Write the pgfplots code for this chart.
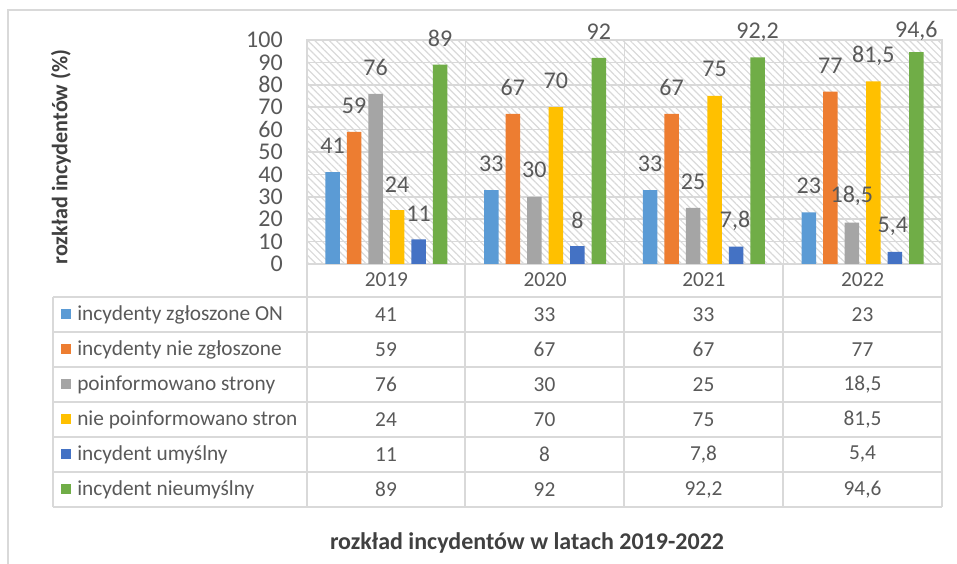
\documentclass[border=0pt]{standalone}
\usepackage{pgfplots}
\pgfplotsset{compat=1.18}
\usepackage{pgfplotstable}
\usepackage{fontspec}
\setmainfont{Carlito}
\usetikzlibrary{patterns.meta}
\definecolor{c1}{HTML}{5B9BD5}
\definecolor{c2}{HTML}{ED7D31}
\definecolor{c3}{HTML}{A5A5A5}
\definecolor{c4}{HTML}{FFC000}
\definecolor{c5}{HTML}{4472C4}
\definecolor{c6}{HTML}{70AD47}
\definecolor{gridc}{HTML}{D9D9D9}
\definecolor{txt}{HTML}{595959}
\definecolor{ttl}{HTML}{404040}

\pgfplotstableread{
x y dy dx
0 41 26 0
1 33 26 0
2 33 26 0
3 23 27 0
}\tA
\pgfplotstableread{
x y dy dx
0 59 26 0
1 67 26 0
2 67 26 0
3 77 26 0
}\tB
\pgfplotstableread{
x y dy dx
0 76 26 0
1 30 27 0
2 25 26 0
3 18.5 27 0
}\tC
\pgfplotstableread{
x y dy dx
0 24 26 0
1 70 26 0
2 75 27 0
3 81.5 26 0
}\tD
\pgfplotstableread{
x y dy dx
0 11 26 0
1 8 26 0
2 7.8 26 -1
3 5.4 26 -2
}\tE
\pgfplotstableread{
x y dy dx
0 89 26 0
1 92 26 0
2 92.2 25 0
3 94.6 21 0
}\tF

\newcommand{\fbig}{\fontsize{18}{18}\selectfont}
\newcommand{\fsmall}{\fontsize{16}{16}\selectfont}

\begin{document}
\begin{tikzpicture}
\useasboundingbox (0pt,0pt) rectangle (717.75pt,423pt);
\begin{scope}[x=0.75pt,y=0.75pt]
\draw[gridc, line width=1pt] (8,0) -- (8,554) -- (957,554);
\end{scope}

\begin{axis}[
  at={(230.25pt,225pt)}, anchor=south west,
  scale only axis, width=476.25pt, height=168pt,
  xmin=-0.5, xmax=3.5, ymin=0, ymax=100,
  ytick={0,10,...,100},
  xtick={0,1,2,3}, xticklabels={2019,2020,2021,2022},
  minor xtick={0.5,1.5,2.5},
  xminorgrids, ymajorgrids,
  grid style={gridc, line width=1.1pt},
  minor grid style={gridc, line width=1.1pt},
  axis line style={gridc, line width=1.1pt},
  major tick length=0pt, minor tick length=0pt,
  ybar=5.25pt, bar width=10.875pt,
  axis background/.style={pattern={Lines[angle=-45,distance=3.8pt,line width=0.9pt]}, pattern color=gridc},
  /pgf/number format/assume math mode=true,
  /pgf/number format/use comma,
  /pgf/number format/1000 sep={},
  yticklabel style={font=\fbig, text=txt, anchor=east, inner sep=0pt, xshift=-18pt},
  xticklabel style={font=\fsmall, text=txt, anchor=base, inner sep=0pt, yshift=-17.25pt},
  nodes near coords,
  every node near coord/.append style={font=\fbig, text=txt, anchor=center, inner sep=0pt},
  visualization depends on={\thisrow{dy}\as\dy},
  visualization depends on={\thisrow{dx}\as\dx},
  every node near coord/.append style={yshift=\dy*0.75pt, xshift=\dx*0.75pt},
]
\addplot[fill=c1, draw=none] table[x=x,y=y] {\tA};
\addplot[fill=c2, draw=none] table[x=x,y=y] {\tB};
\addplot[fill=c3, draw=none] table[x=x,y=y] {\tC};
\addplot[fill=c4, draw=none] table[x=x,y=y] {\tD};
\addplot[fill=c5, draw=none] table[x=x,y=y] {\tE};
\addplot[fill=c6, draw=none] table[x=x,y=y] {\tF};
\end{axis}

\begin{scope}[x=0.75pt,y=0.75pt]
% data table
\begin{scope}[gridc, line width=1.1pt]
\foreach \yy in {267,232,197,162,127,92,57} \draw (53,\yy) -- (942,\yy);
\draw (53,267) -- (53,57);
\foreach \xx in {307,465,624,783,942} \draw (\xx,300) -- (\xx,57);
\end{scope}

\foreach \yy/\cc/\lab in {249.5/c1/incydenty zgłoszone ON, 214.5/c2/incydenty nie zgłoszone, 179.5/c3/poinformowano strony, 144.5/c4/nie poinformowano stron, 109.5/c5/incydent umyślny, 74.5/c6/incydent nieumyślny}{
  \fill[\cc] (61,\yy-5) rectangle (71,\yy+5);
  \node[anchor=west, inner sep=0pt, font=\fsmall, text=txt] at (77,\yy) {\lab};
}

\foreach \xx/\a/\b/\c/\d/\e/\f in {386/41/59/76/24/11/89, 544.5/33/67/30/70/8/92, 703.5/33/67/25/75/{7,8}/{92,2}, 862.5/23/77/{18,5}/{81,5}/{5,4}/{94,6}}{
  \node[font=\fsmall, text=txt, inner sep=0pt] at (\xx,249.5) {\a};
  \node[font=\fsmall, text=txt, inner sep=0pt] at (\xx,214.5) {\b};
  \node[font=\fsmall, text=txt, inner sep=0pt] at (\xx,179.5) {\c};
  \node[font=\fsmall, text=txt, inner sep=0pt] at (\xx,144.5) {\d};
  \node[font=\fsmall, text=txt, inner sep=0pt] at (\xx,109.5) {\e};
  \node[font=\fsmall, text=txt, inner sep=0pt] at (\xx,74.5) {\f};
}

\node[rotate=90, font=\fontsize{16.6}{16.6}\selectfont\bfseries, text=ttl, inner sep=0pt] at (61,407) {rozkład incydentów (\%)};
\node[font=\fontsize{18}{18}\selectfont\bfseries, text=ttl, inner sep=0pt] at (527,21) {rozkład incydentów w latach 2019-2022};
\end{scope}
\end{tikzpicture}
\end{document}
